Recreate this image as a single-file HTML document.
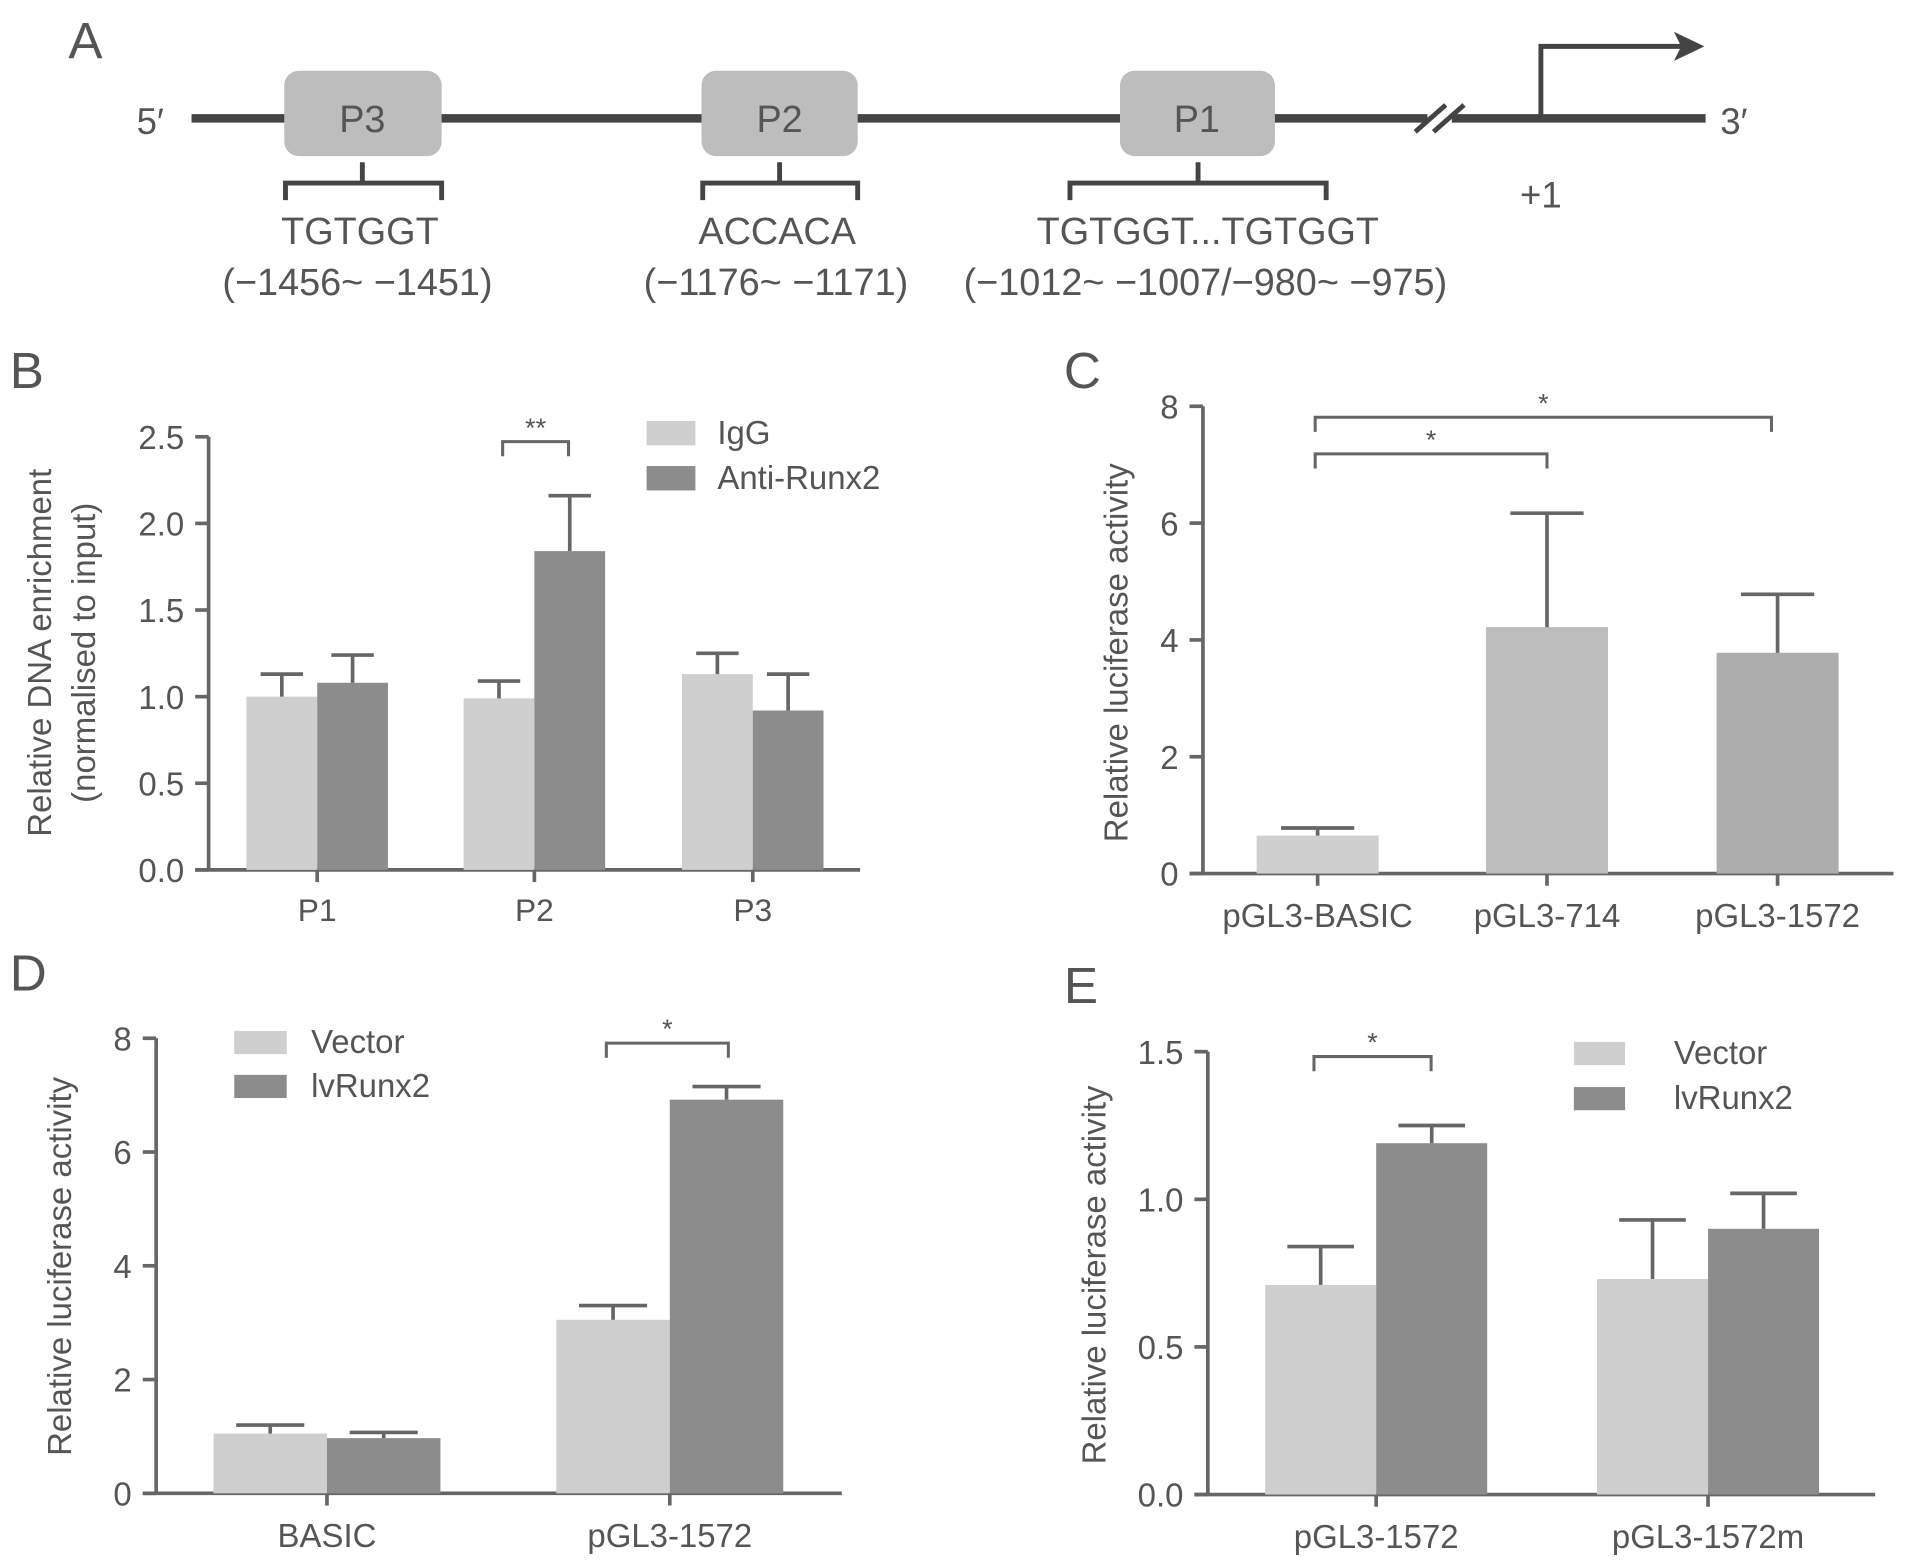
<!DOCTYPE html>
<html><head><meta charset="utf-8"><style>
html,body{margin:0;padding:0;background:#fff;}
svg{display:block;font-family:"Liberation Sans",Arial,sans-serif;}
</style></head><body>
<svg id="fig" width="1913" height="1568" viewBox="0 0 1568 1285.2" xmlns="http://www.w3.org/2000/svg">
<g fill="#555" stroke="none">
  <text x="56" y="48" font-size="42">A</text>
  <text x="112" y="110" font-size="30">5′</text>
  <text x="1410" y="110" font-size="30">3′</text>
  <line x1="157" y1="97" x2="1170" y2="97" stroke="#444" stroke-width="7"/>
  <line x1="1190" y1="97" x2="1398" y2="97" stroke="#444" stroke-width="7"/>
  <line x1="1160" y1="108" x2="1185" y2="86" stroke="#444" stroke-width="4"/>
  <line x1="1175" y1="108" x2="1200" y2="86" stroke="#444" stroke-width="4"/>
  <polyline points="1263,97 1263,38 1385,38" fill="none" stroke="#444" stroke-width="4"/>
  <polygon points="1397,38 1372,26 1378,38 1372,50" fill="#444"/>
  <text x="1263" y="170" font-size="30" text-anchor="middle">+1</text>
  <rect x="233" y="58" width="129" height="70" rx="12" fill="#bdbdbd"/>
  <text x="297" y="108" font-size="31" text-anchor="middle">P3</text>
  <rect x="575" y="58" width="128" height="70" rx="12" fill="#bdbdbd"/>
  <text x="639" y="108" font-size="31" text-anchor="middle">P2</text>
  <rect x="918" y="58" width="127" height="70" rx="12" fill="#bdbdbd"/>
  <text x="981" y="108" font-size="31" text-anchor="middle">P1</text>
  <path d="M234,164 V150 H362 V164 M297,150 V133" fill="none" stroke="#444" stroke-width="4"/>
  <path d="M576,164 V150 H703 V164 M639,150 V133" fill="none" stroke="#444" stroke-width="4"/>
  <path d="M877,164 V150 H1087 V164 M982,150 V133" fill="none" stroke="#444" stroke-width="4"/>
  <text x="295" y="200" font-size="31" text-anchor="middle">TGTGGT</text>
  <text x="293" y="242" font-size="31" text-anchor="middle">(−1456~ −1451)</text>
  <text x="637" y="200" font-size="31" text-anchor="middle">ACCACA</text>
  <text x="636" y="242" font-size="31" text-anchor="middle">(−1176~ −1171)</text>
  <text x="990" y="200" font-size="31" text-anchor="middle">TGTGGT...TGTGGT</text>
  <text x="988" y="242" font-size="31" text-anchor="middle">(−1012~ −1007/−980~ −975)</text>
</g>
<g id="charts"></g>
</svg>
<script>
// Panel B data
const bCategories = ["P1","P2","P3"];
const bIgG = [1.0, 0.99, 1.13];
const bIgGErr = [0.13, 0.10, 0.12];
const bAnti = [1.08, 1.84, 0.92];
const bAntiErr = [0.16, 0.32, 0.21];
const bTicks = ["0.0","0.5","1.0","1.5","2.0","2.5"];
// Panel C data
const cCategories = ["pGL3-BASIC","pGL3-714","pGL3-1572"];
const cValues = [0.65, 4.22, 3.78];
const cErr = [0.13, 1.95, 1.0];
const cTicks = ["0","2","4","6","8"];
// Panel D data
const dCategories = ["BASIC","pGL3-1572"];
const dVector = [1.05, 3.05];
const dVectorErr = [0.15, 0.25];
const dLv = [0.97, 6.92];
const dLvErr = [0.10, 0.23];
const dTicks = ["0","2","4","6","8"];
// Panel E data
const eCategories = ["pGL3-1572","pGL3-1572m"];
const eVector = [0.71, 0.73];
const eVectorErr = [0.13, 0.20];
const eLv = [1.19, 0.90];
const eLvErr = [0.06, 0.12];
const eTicks = ["0.0","0.5","1.0","1.5"];

const NS="http://www.w3.org/2000/svg";
const root=document.getElementById('charts');
function mk(tag,attrs,parent,name){const e=document.createElementNS(NS,tag);for(const k in attrs)e.setAttribute(k,attrs[k]);


(parent||root).appendChild(e);return e;}
function txt(x,y,s,size,anchor,parent,name,rot){const t=mk('text',{x:x,y:y,'font-size':size,'text-anchor':anchor||'middle',fill:'#555'},parent,name);if(rot)t.setAttribute('transform','rotate(-90 '+x+' '+y+')');t.textContent=s;return t;}
const AX='#666', LIGHT='#cfcfcf', DARK='#8c8c8c';

function axes(g,x0,xEnd,y0,yTop,ticks,maxV,tickFn,prefix){
  mk('line',{x1:x0,y1:yTop,x2:x0,y2:y0,stroke:AX,'stroke-width':3},g,prefix+'-y-axis');
  mk('line',{x1:x0-11,y1:y0,x2:xEnd,y2:y0,stroke:AX,'stroke-width':3},g,prefix+'-x-axis');
  ticks.forEach((t)=>{const y=tickFn(parseFloat(t));
    mk('line',{x1:x0-11,y1:y,x2:x0,y2:y,stroke:AX,'stroke-width':3},g,prefix+'-y-tick');
    txt(x0-20,y+10,t,27,'end',g,prefix+'-y-tick-label');});
}
function bar(g,x,w,v,err,yFn,y0,color,name){
  const y=yFn(v);
  mk('rect',{x:x,y:y,width:w,height:y0-y,fill:color},g,name);
  const ye=yFn(v+err), cx=x+w/2;
  mk('line',{x1:cx,y1:y,x2:cx,y2:ye,stroke:AX,'stroke-width':3},g,name+'-error-bar');
  mk('line',{x1:cx-w*0.3,y1:ye,x2:cx+w*0.3,y2:ye,stroke:AX,'stroke-width':3},g,name+'-error-cap');
}
function sig(g,x1,x2,y,label,name){
  mk('path',{d:'M'+x1+','+(y+12)+' V'+y+' H'+x2+' V'+(y+12),fill:'none',stroke:AX,'stroke-width':2.5},g,name);
  txt((x1+x2)/2,y-4,label,22,'middle',g,name+'-stars');
}
function legend(g,x,y1,y2,w,h,l1,l2,tx,prefix){
  mk('rect',{x:x,y:y1,width:w,height:h,fill:LIGHT},g,prefix+'-legend-swatch-1');
  txt(tx,y1+h-1,l1,27,'start',g,prefix+'-legend-label-1');
  mk('rect',{x:x,y:y2,width:w,height:h,fill:DARK},g,prefix+'-legend-swatch-2');
  txt(tx,y2+h-1,l2,27,'start',g,prefix+'-legend-label-2');
}

// Panel B
(function(){
  const g=mk('g',{},root,'panel-b');
  const x0=171,y0=713,yTop=358,max=2.5;const y=v=>y0-(v/max)*(y0-yTop);
  txt(8,318,'B',42,'start',g,'panel-label-b');
  axes(g,x0,705,y0,yTop,bTicks,max,y,'b');
  const centers=[260,438,617],w=58;
  bCategories.forEach((c,i)=>{
    bar(g,centers[i]-w,w,bIgG[i],bIgGErr[i],y,y0,LIGHT,'b-bar-igg-'+c.toLowerCase());
    bar(g,centers[i],w,bAnti[i],bAntiErr[i],y,y0,DARK,'b-bar-anti-runx2-'+c.toLowerCase());
    mk('line',{x1:centers[i],y1:y0,x2:centers[i],y2:y0+10,stroke:AX,'stroke-width':3},g,'b-x-tick');
    txt(centers[i],y0+42,c,26,'middle',g,'b-x-label');
  });
  sig(g,412,466,362,'**','b-significance-p2');
  legend(g,530,345,382,40,20,'IgG','Anti-Runx2',588,'b');
  txt(42,535,'Relative DNA enrichment',27,'middle',g,'b-y-axis-title',true);
  txt(78,535,'(normalised to input)',27,'middle',g,'b-y-axis-subtitle',true);
})();
// Panel C
(function(){
  const g=mk('g',{},root,'panel-c');
  const x0=986,y0=716,yTop=333,max=8;const y=v=>y0-(v/max)*(y0-yTop);
  txt(872,318,'C',42,'start',g,'panel-label-c');
  axes(g,x0,1552,y0,yTop,cTicks,max,y,'c');
  const centers=[1080,1268,1457],w=100,cols=['#cfcfcf','#bdbdbd','#adadad'];
  cCategories.forEach((c,i)=>{
    bar(g,centers[i]-w/2,w,cValues[i],cErr[i],y,y0,cols[i],'c-bar-'+c.toLowerCase());
    mk('line',{x1:centers[i],y1:y0,x2:centers[i],y2:y0+10,stroke:AX,'stroke-width':3},g,'c-x-tick');
    txt(centers[i],y0+44,c,27,'middle',g,'c-x-label');
  });
  sig(g,1078,1268,372,'*','c-significance-714');
  sig(g,1078,1452,342,'*','c-significance-1572');
  txt(924,535,'Relative luciferase activity',27,'middle',g,'c-y-axis-title',true);
})();
// Panel D
(function(){
  const g=mk('g',{},root,'panel-d');
  const x0=128,y0=1224,yTop=851,max=8;const y=v=>y0-(v/max)*(y0-yTop);
  txt(8,812,'D',42,'start',g,'panel-label-d');
  axes(g,x0,690,y0,yTop,dTicks,max,y,'d');
  const centers=[268,549],w=93;
  dCategories.forEach((c,i)=>{
    bar(g,centers[i]-w,w,dVector[i],dVectorErr[i],y,y0,LIGHT,'d-bar-vector-'+c.toLowerCase());
    bar(g,centers[i],w,dLv[i],dLvErr[i],y,y0,DARK,'d-bar-lvrunx2-'+c.toLowerCase());
    mk('line',{x1:centers[i],y1:y0,x2:centers[i],y2:y0+10,stroke:AX,'stroke-width':3},g,'d-x-tick');
    txt(centers[i],y0+44,c,27,'middle',g,'d-x-label');
  });
  sig(g,497,597,855,'*','d-significance');
  legend(g,192,845,881,43,19,'Vector','lvRunx2',255,'d');
  txt(58,1038,'Relative luciferase activity',27,'middle',g,'d-y-axis-title',true);
})();
// Panel E
(function(){
  const g=mk('g',{},root,'panel-e');
  const x0=990,y0=1225,yTop=862,max=1.5;const y=v=>y0-(v/max)*(y0-yTop);
  txt(872,822,'E',42,'start',g,'panel-label-e');
  axes(g,x0,1537,y0,yTop,eTicks,max,y,'e');
  const centers=[1128,1400],w=91;
  eCategories.forEach((c,i)=>{
    bar(g,centers[i]-w,w,eVector[i],eVectorErr[i],y,y0,LIGHT,'e-bar-vector-'+c.toLowerCase());
    bar(g,centers[i],w,eLv[i],eLvErr[i],y,y0,DARK,'e-bar-lvrunx2-'+c.toLowerCase());
    mk('line',{x1:centers[i],y1:y0,x2:centers[i],y2:y0+10,stroke:AX,'stroke-width':3},g,'e-x-tick');
    txt(centers[i],y0+44,c,27,'middle',g,'e-x-label');
  });
  sig(g,1077,1173,866,'*','e-significance');
  legend(g,1290,854,891,42,19,'Vector','lvRunx2',1372,'e');
  txt(906,1045,'Relative luciferase activity',27,'middle',g,'e-y-axis-title',true);
})();
</script>
</body></html>
